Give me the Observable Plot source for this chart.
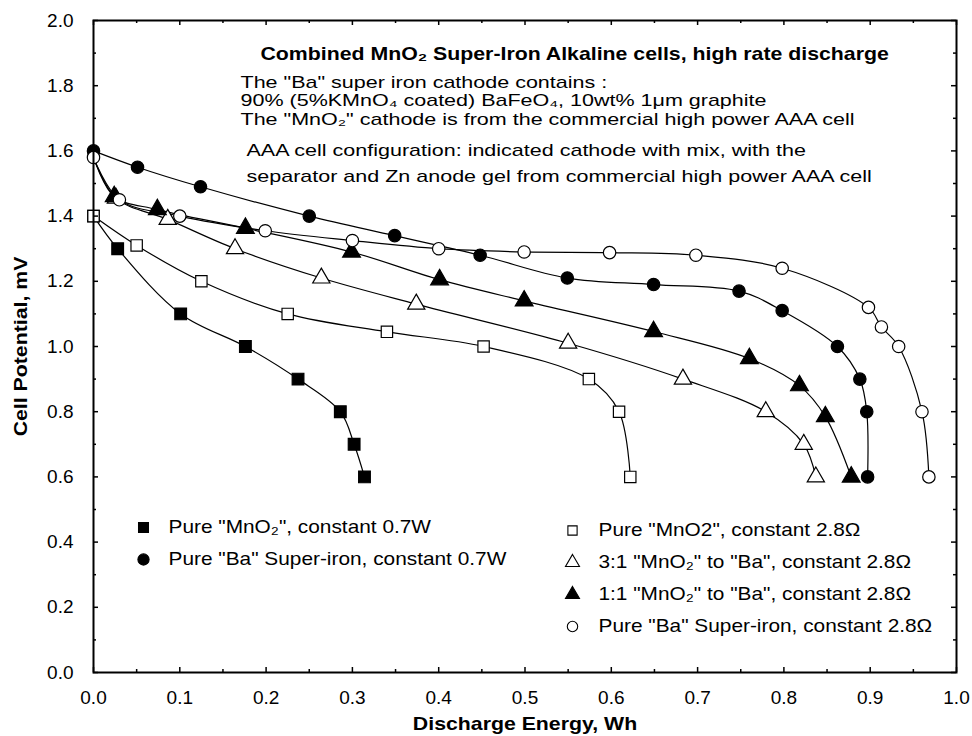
<!DOCTYPE html>
<html>
<head>
<meta charset="utf-8">
<script src="https://cdn.jsdelivr.net/npm/d3@7"></script>
<script src="https://cdn.jsdelivr.net/npm/@observablehq/plot@0.6"></script>
<style>
  body { margin: 0; background: #fff; }
  #chart svg { display: block; }
</style>
</head>
<body>
<div id="chart"></div>
<script>
// ---- Data ----
const seriesNames = [
  "Pure \"MnO₂\", constant 0.7W",
  "Pure \"Ba\" Super-iron, constant 0.7W",
  "Pure \"MnO2\", constant 2.8Ω",
  "3:1 \"MnO₂\" to \"Ba\", constant 2.8Ω",
  "1:1 \"MnO₂\" to \"Ba\", constant 2.8Ω",
  "Pure \"Ba\" Super-iron, constant 2.8Ω"
];

const mno2PowerX = [0, 0.028, 0.101, 0.176, 0.237, 0.286, 0.302, 0.314];
const mno2PowerY = [1.40, 1.30, 1.10, 1.00, 0.90, 0.80, 0.70, 0.60];

const baPowerX = [0, 0.051, 0.124, 0.250, 0.349, 0.448, 0.549, 0.649, 0.748, 0.798, 0.862, 0.888, 0.896, 0.897];
const baPowerY = [1.60, 1.55, 1.49, 1.40, 1.34, 1.28, 1.21, 1.19, 1.17, 1.11, 1.00, 0.90, 0.80, 0.60];

const mno2ResX = [0, 0.050, 0.125, 0.225, 0.340, 0.452, 0.574, 0.609, 0.622];
const mno2ResY = [1.40, 1.31, 1.20, 1.10, 1.045, 1.00, 0.90, 0.80, 0.60];

const mix31X = [0, 0.026, 0.086, 0.164, 0.264, 0.374, 0.550, 0.683, 0.779, 0.823, 0.837];
const mix31Y = [1.58, 1.455, 1.39, 1.30, 1.21, 1.13, 1.01, 0.90, 0.80, 0.70, 0.60];

const mix11X = [0, 0.024, 0.074, 0.176, 0.299, 0.401, 0.499, 0.649, 0.760, 0.818, 0.848, 0.878];
const mix11Y = [1.58, 1.46, 1.42, 1.363, 1.29, 1.205, 1.14, 1.046, 0.963, 0.88, 0.785, 0.60];

const baResX = [0, 0.030, 0.100, 0.199, 0.300, 0.400, 0.499, 0.598, 0.698, 0.798, 0.898, 0.913, 0.933, 0.960, 0.968];
const baResY = [1.58, 1.45, 1.40, 1.355, 1.325, 1.30, 1.29, 1.288, 1.28, 1.24, 1.12, 1.06, 1.00, 0.80, 0.60];

const xTicks = [0, 0.1, 0.2, 0.3, 0.4, 0.5, 0.6, 0.7, 0.8, 0.9, 1.0];
const xMinorTicks = [0.05, 0.15, 0.25, 0.35, 0.45, 0.55, 0.65, 0.75, 0.85, 0.95];
const yTicks = [0, 0.2, 0.4, 0.6, 0.8, 1.0, 1.2, 1.4, 1.6, 1.8, 2.0];
const yMinorTicks = [0.1, 0.3, 0.5, 0.7, 0.9, 1.1, 1.3, 1.5, 1.7, 1.9];

const titleText = "Combined MnO₂ Super-Iron Alkaline cells, high rate discharge";
const noteLines = [
  "The \"Ba\" super iron cathode contains :",
  "90% (5%KMnO₄ coated) BaFeO₄, 10wt% 1μm graphite",
  "The \"MnO₂\" cathode is from the commercial high power AAA cell"
];
const noteLines2 = [
  "AAA cell configuration: indicated cathode with mix, with the",
  "separator and Zn anode gel from commercial high power AAA cell"
];
const xLabel = "Discharge Energy, Wh";
const yLabel = "Cell Potential, mV";

// ---- Styles ----
const seriesSymbols = ["square", "circle", "square", "triangle", "triangle", "circle"];
const seriesFilled = [true, true, false, false, true, false];
const seriesR = [6.6, 6.2, 6.4, 6.4, 6.6, 6.2];
const seriesFirstMarker = [0, 0, 0, 1, 1, 0]; // triangle curves start without a visible marker

// ---- Table ----
const xs = [mno2PowerX, baPowerX, mno2ResX, mix31X, mix11X, baResX];
const ys = [mno2PowerY, baPowerY, mno2ResY, mix31Y, mix11Y, baResY];
const rows = [];
seriesNames.forEach((name, i) => {
  xs[i].forEach((x, j) => rows.push({series: name, idx: i, j, x, y: ys[i][j]}));
});

const FONT = "'Liberation Sans', Arial, Helvetica, sans-serif";
const FS = 19;
const NOTE_FS = 17;
const W = 972, H = 736, ML = 93, MR = 16, MT = 20, MB = 64;
const FW = W - ML - MR, FH = H - MT - MB;
const MAJ = 5, MIN = 3;

const marks = [];

// lines
marks.push(Plot.line(rows, {x: "x", y: "y", z: "series", curve: "catmull-rom", stroke: "black", strokeWidth: 1.2}));

// markers per series
seriesNames.forEach((name, i) => {
  marks.push(Plot.dot(rows.filter(d => d.idx === i && d.j >= seriesFirstMarker[i]), {
    x: "x", y: "y", symbol: seriesSymbols[i], r: seriesR[i],
    fill: seriesFilled[i] ? "black" : "white",
    stroke: "black", strokeWidth: 1.2
  }));
});

// frame + inward ticks on all four sides
marks.push(Plot.frame({stroke: "black", strokeWidth: 2}));
marks.push(Plot.tickX(xTicks, {x: d => d, insetTop: FH - MAJ, stroke: "black", strokeWidth: 1.5}));
marks.push(Plot.tickX(xMinorTicks, {x: d => d, insetTop: FH - MIN, stroke: "black", strokeWidth: 1.5}));
marks.push(Plot.tickX(xTicks, {x: d => d, insetBottom: FH - MAJ, stroke: "black", strokeWidth: 1.5}));
marks.push(Plot.tickX(xMinorTicks, {x: d => d, insetBottom: FH - MIN, stroke: "black", strokeWidth: 1.5}));
marks.push(Plot.tickY(yTicks, {y: d => d, insetRight: FW - MAJ, stroke: "black", strokeWidth: 1.5}));
marks.push(Plot.tickY(yMinorTicks, {y: d => d, insetRight: FW - MIN, stroke: "black", strokeWidth: 1.5}));
marks.push(Plot.tickY(yTicks, {y: d => d, insetLeft: FW - MAJ, stroke: "black", strokeWidth: 1.5}));
marks.push(Plot.tickY(yMinorTicks, {y: d => d, insetLeft: FW - MIN, stroke: "black", strokeWidth: 1.5}));
marks.push(Plot.axisX({ticks: xTicks, tickSize: 0, tickPadding: 18, tickFormat: d3.format(".1f"), label: null, fontSize: FS}));
marks.push(Plot.axisY({ticks: yTicks, tickSize: 0, tickPadding: 20, tickFormat: d3.format(".1f"), label: null, fontSize: FS}));

// axis labels
marks.push(Plot.text([yLabel], {text: d => d, frameAnchor: "left", dx: -73, rotate: -90, textAnchor: "middle", lineAnchor: "middle", fontWeight: "bold", fontSize: FS}));
marks.push(Plot.text([xLabel], {text: d => d, frameAnchor: "bottom", dy: 51, textAnchor: "middle", lineAnchor: "middle", fontWeight: "bold", fontSize: FS}));

// title and notes
marks.push(Plot.text([titleText], {text: d => d, frameAnchor: "top-left", dx: 167, dy: 33, textAnchor: "start", lineAnchor: "middle", fontWeight: "bold", fontSize: FS}));
noteLines.forEach((t, i) => {
  marks.push(Plot.text([t], {text: d => d, frameAnchor: "top-left", dx: 147, dy: 62 + i * 18.5, textAnchor: "start", lineAnchor: "middle", fontSize: NOTE_FS}));
});
noteLines2.forEach((t, i) => {
  marks.push(Plot.text([t], {text: d => d, frameAnchor: "top-left", dx: 153, dy: 130 + i * 26, textAnchor: "start", lineAnchor: "middle", fontSize: NOTE_FS}));
});

// legend
const legendLeft = [0, 1];
const legendRight = [2, 3, 4, 5];
legendLeft.forEach((si, k) => {
  const dy = 507 + k * 32;
  marks.push(Plot.dot([seriesNames[si]], {frameAnchor: "top-left", dx: 50, dy, symbol: seriesSymbols[si], r: 5.6,
    fill: seriesFilled[si] ? "black" : "white", stroke: "black", strokeWidth: 1.1}));
  marks.push(Plot.text([seriesNames[si]], {text: d => d, frameAnchor: "top-left", dx: 75, dy, textAnchor: "start", lineAnchor: "middle", fontSize: 18.6}));
});
legendRight.forEach((si, k) => {
  const dy = 510 + k * 32;
  marks.push(Plot.dot([seriesNames[si]], {frameAnchor: "top-left", dx: 479, dy, symbol: seriesSymbols[si], r: 5.2,
    fill: seriesFilled[si] ? "black" : "white", stroke: "black", strokeWidth: 1.1}));
  marks.push(Plot.text([seriesNames[si]], {text: d => d, frameAnchor: "top-left", dx: 505, dy, textAnchor: "start", lineAnchor: "middle", fontSize: 18.6}));
});

const chart = Plot.plot({
  width: W,
  height: H,
  marginLeft: ML,
  marginRight: MR,
  marginTop: MT,
  marginBottom: MB,
  x: {domain: [0, 1]},
  y: {domain: [0, 2]},
  style: {fontFamily: FONT, fontSize: FS + "px", color: "black", background: "white", overflow: "visible"},
  marks
});
document.getElementById("chart").appendChild(chart);

// The reference typeface is set wide: stretch the annotation texts horizontally.
const noteSet = new Set([...noteLines, ...noteLines2]);
chart.querySelectorAll('g[aria-label="text"] text').forEach(t => {
  const len = t.getComputedTextLength();
  const stretch = noteSet.has(t.textContent) ? 1.265 : 1.12;
  if (len > 0) {
    t.setAttribute("textLength", (len * stretch).toFixed(1));
    t.setAttribute("lengthAdjust", "spacingAndGlyphs");
  }
});
</script>
</body>
</html>
